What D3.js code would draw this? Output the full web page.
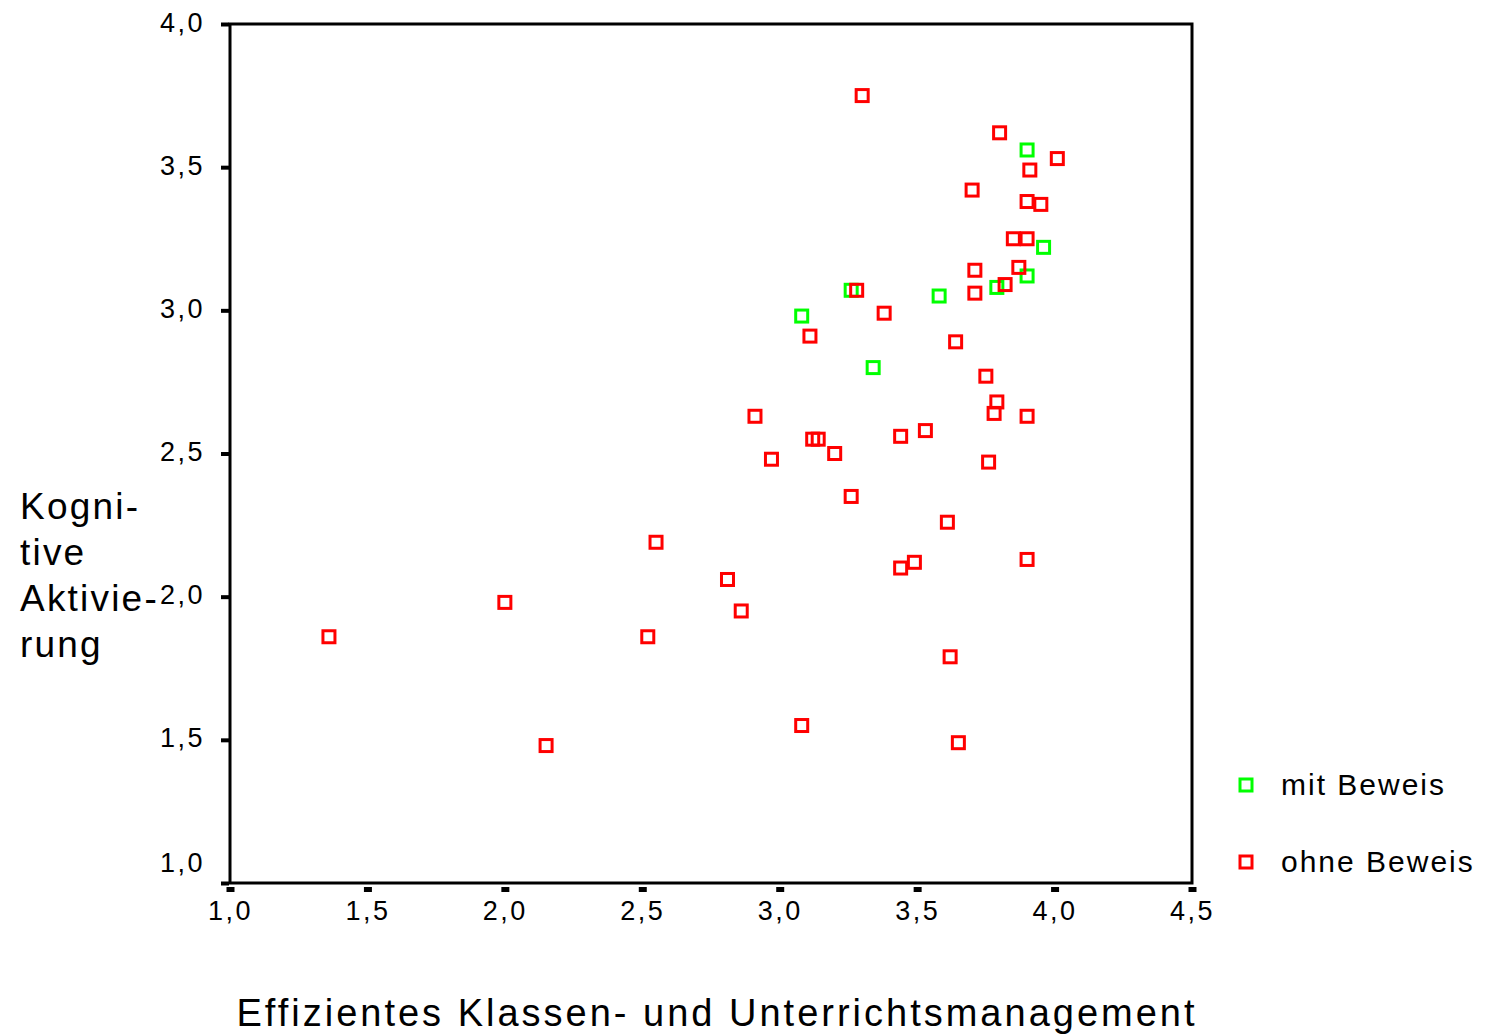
<!DOCTYPE html>
<html>
<head>
<meta charset="utf-8">
<script src="https://cdn.jsdelivr.net/npm/d3@7"></script>
<style>
  body { margin: 0; background: #fff; }
  svg { display: block; font-family: "Liberation Sans", Arial, sans-serif; }
  .tick text { fill: #000; }
</style>
</head>
<body>
<svg width="1486" height="1035"></svg>
<script>
// Gruppen
const groups = ["mit Beweis", "ohne Beweis"];
const groupColors = ["#00ff00", "#ff0000"];

// mit Beweis
const mitX = [3.90, 3.96, 3.90, 3.79, 3.58, 3.08, 3.26, 3.34];
const mitY = [3.56, 3.22, 3.12, 3.08, 3.05, 2.98, 3.07, 2.80];

// ohne Beweis
const ohneX = [3.30, 3.80, 4.01, 3.91, 3.70, 3.90, 3.95, 3.85, 3.90, 3.71,
               3.87, 3.82, 3.71, 3.28, 3.38, 3.11, 3.64, 3.75, 3.79, 3.78,
               3.90, 3.53, 3.44, 3.12, 3.14, 2.91, 2.97, 3.20, 3.76, 3.26,
               3.61, 3.44, 3.49, 3.90, 3.62, 3.65, 2.55, 2.81, 2.86, 2.00,
               2.52, 1.36, 2.15, 3.08];
const ohneY = [3.75, 3.62, 3.53, 3.49, 3.42, 3.38, 3.37, 3.25, 3.25, 3.14,
               3.15, 3.09, 3.06, 3.07, 2.99, 2.91, 2.89, 2.77, 2.68, 2.64,
               2.63, 2.58, 2.56, 2.55, 2.55, 2.63, 2.48, 2.50, 2.47, 2.35,
               2.26, 2.10, 2.12, 2.13, 1.79, 1.49, 2.19, 2.06, 1.95, 1.98,
               1.86, 1.86, 1.48, 1.55];

const xTicks = [1.0, 1.5, 2.0, 2.5, 3.0, 3.5, 4.0, 4.5];
const yTicks = [1.0, 1.5, 2.0, 2.5, 3.0, 3.5, 4.0];

const xTitle = "Effizientes Klassen- und Unterrichtsmanagement";
const yTitle = ["Kogni-", "tive", "Aktivie-", "rung"];

const svg = d3.select("svg");
const plotLeft = 230, plotRight = 1192, plotTop = 24, plotBottom = 883;

const x = d3.scaleLinear().domain([1, 4.5]).range([plotLeft, plotRight]);
const y = d3.scaleLinear().domain([1, 4]).range([plotBottom, plotTop]);
const fmt = d => d3.format(".1f")(d).replace(".", ",");

// x axis ticks + labels
const gx = svg.append("g")
    .attr("transform", `translate(0,${plotBottom})`)
    .call(d3.axisBottom(x).tickValues(xTicks).tickSize(9).tickFormat(fmt));
gx.select(".domain").remove();
gx.selectAll(".tick line")
    .attr("y1", 4).attr("y2", 9)
    .attr("stroke", "#000").attr("stroke-width", 8);
gx.selectAll(".tick text")
    .attr("y", 37).attr("dy", null).attr("dx", 0)
    .style("font-size", "27px").style("letter-spacing", "2.5px");

// y axis ticks + labels
const gy = svg.append("g")
    .attr("transform", `translate(${plotLeft},0)`)
    .call(d3.axisLeft(y).tickValues(yTicks).tickSize(9).tickFormat(fmt));
gy.select(".domain").remove();
gy.selectAll(".tick line")
    .attr("x1", -1)
    .attr("stroke", "#000").attr("stroke-width", 4);
gy.selectAll(".tick text")
    .attr("x", -25).attr("dy", null)
    .attr("y", d => d === 1 ? -12 : 7)
    .style("font-size", "27px").style("letter-spacing", "2.5px");

// frame
svg.append("rect")
    .attr("x", plotLeft).attr("y", plotTop)
    .attr("width", plotRight - plotLeft).attr("height", plotBottom - plotTop)
    .attr("fill", "none").attr("stroke", "#000").attr("stroke-width", 3);

// points
function drawSquares(xs, ys, color) {
  svg.append("g").selectAll("rect")
    .data(xs.map((v, i) => [v, ys[i]]))
    .join("rect")
      .attr("x", d => x(d[0]) - 6)
      .attr("y", d => y(d[1]) - 6)
      .attr("width", 12).attr("height", 12)
      .attr("fill", "none")
      .attr("stroke", color)
      .attr("stroke-width", 3);
}
drawSquares(mitX, mitY, groupColors[0]);
drawSquares(ohneX, ohneY, groupColors[1]);

// axis titles
svg.append("text")
    .attr("x", 717).attr("y", 1026)
    .attr("text-anchor", "middle")
    .style("font-size", "38px").style("letter-spacing", "3px")
    .text(xTitle);

svg.append("text")
    .attr("x", 20).attr("y", 519)
    .style("font-size", "37px").style("letter-spacing", "2.2px")
  .selectAll("tspan")
  .data(yTitle)
  .join("tspan")
    .attr("x", 20)
    .attr("dy", (d, i) => i === 0 ? 0 : 46)
    .text(d => d);

// legend
const legend = svg.append("g");
groups.forEach((g, i) => {
  const ly = 785 + i * 77;
  legend.append("rect")
      .attr("x", 1240).attr("y", ly - 6)
      .attr("width", 12).attr("height", 12)
      .attr("fill", "none").attr("stroke", groupColors[i]).attr("stroke-width", 3);
  legend.append("text")
      .attr("x", 1281).attr("y", ly + 10)
      .style("font-size", "30px").style("letter-spacing", "2px")
      .text(g);
});
</script>
</body>
</html>
